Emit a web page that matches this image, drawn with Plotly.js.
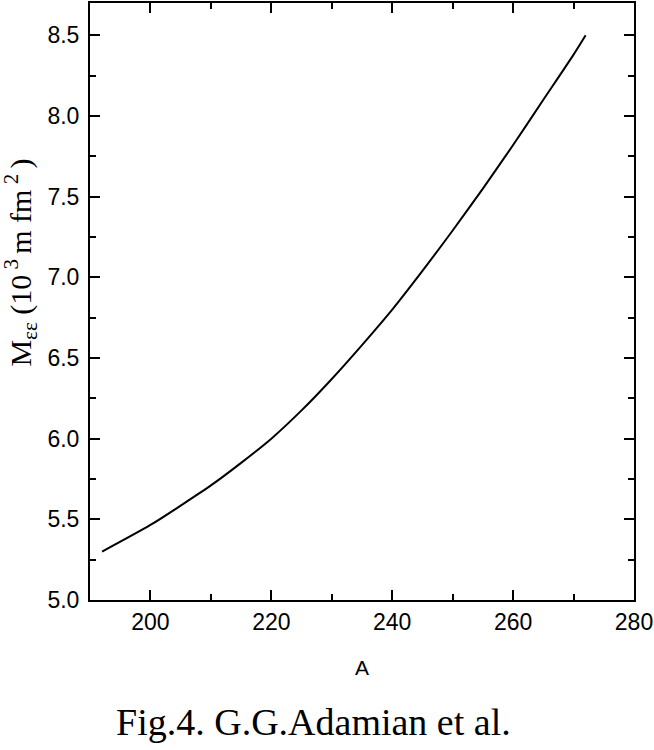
<!DOCTYPE html>
<html>
<head>
<meta charset="utf-8">
<script src="https://cdn.plot.ly/plotly-3.0.1.min.js"></script>
<style>
  body { margin: 0; background: #fff; }
  #plot { width: 654px; height: 750px; }
</style>
</head>
<body>
<div id="plot"></div>
<script>
// mass number A and inertia M_ee (10^3 m fm^2)
var massNumber = [192, 200, 205, 210, 215, 220, 225, 230, 235, 240, 245, 250, 255, 260, 265, 270, 272];
var inertia = [5.30, 5.465, 5.585, 5.71, 5.85, 6.00, 6.175, 6.37, 6.58, 6.80, 7.04, 7.29, 7.55, 7.82, 8.10, 8.38, 8.50];

var curve = {
  x: massNumber,
  y: inertia,
  mode: "lines",
  line: {color: "#000", width: 2, shape: "spline", smoothing: 0.8},
  showlegend: false
};

var axisCommon = {
  showgrid: false,
  zeroline: false,
  showline: true,
  linecolor: "#000",
  linewidth: 2,
  mirror: "ticks",
  ticks: "inside",
  ticklen: 10,
  tickwidth: 2,
  tickcolor: "#000",
  tickfont: {family: "Liberation Sans, Arial, sans-serif", size: 23, color: "#000"}
};

var serif = "Liberation Serif, Times New Roman, serif";

var layout = {
  width: 654,
  height: 750,
  margin: {l: 90, r: 20, t: 3, b: 150},
  paper_bgcolor: "#fff",
  plot_bgcolor: "#fff",
  xaxis: Object.assign({}, axisCommon, {
    range: [190, 280],
    dtick: 20,
    tick0: 200,
    minor: {dtick: 10, ticks: "inside", ticklen: 6, tickwidth: 2, tickcolor: "#000"},
    title: {text: "A", font: {family: "Liberation Sans, Arial, sans-serif", size: 21, color: "#000"}, standoff: 27}
  }),
  yaxis: Object.assign({}, axisCommon, {
    range: [5.0, 8.7],
    dtick: 0.5,
    tick0: 5,
    tickformat: ".1f",
    ticklabelstandoff: 4,
    minor: {dtick: 0.25, ticks: "inside", ticklen: 6, tickwidth: 2, tickcolor: "#000"}
  }),
  annotations: [
    {
      text: "M<sub>εε</sub> (10<sup> 3 </sup>m fm<sup> 2 </sup>)",
      xref: "paper", yref: "paper",
      x: -0.127, y: 0.565,
      xanchor: "center", yanchor: "middle",
      textangle: -90,
      showarrow: false,
      font: {family: serif, size: 30, color: "#000"}
    },
    {
      text: "Fig.4. G.G.Adamian et al.",
      xref: "paper", yref: "paper",
      x: 0.044, y: -0.205,
      xanchor: "left", yanchor: "middle",
      showarrow: false,
      font: {family: serif, size: 38, color: "#000"}
    }
  ]
};

Plotly.newPlot("plot", [curve], layout, {staticPlot: true});
</script>
</body>
</html>
